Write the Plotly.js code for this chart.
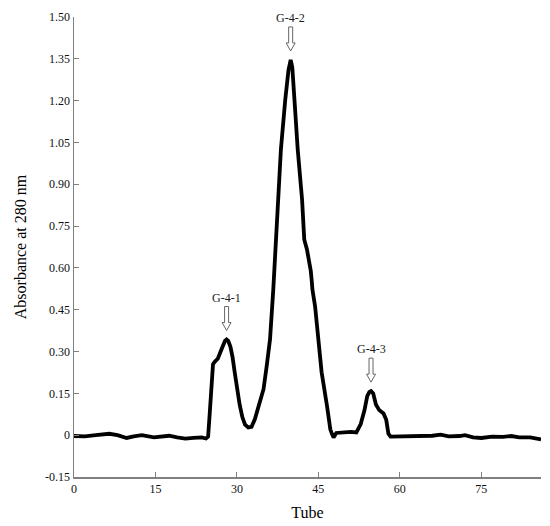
<!DOCTYPE html>
<html>
<head>
<meta charset="utf-8">
<script src="https://cdn.plot.ly/plotly-3.0.1.min.js"></script>
<style>html,body{margin:0;padding:0;background:#fff;}#chart{width:550px;height:526px;}</style>
</head>
<body>
<div id="chart"></div>
<script>
var tube = [0, 2, 4, 6.5, 8, 9.7, 11, 12.5, 14.7, 16, 17.5, 19, 20.5, 22, 23.5, 24.3, 24.7,
  25.0, 25.3, 25.6, 26.0, 26.5, 27.0, 27.5, 27.8, 28.1, 28.4, 28.8, 29.2, 29.6, 30.0, 30.5, 31.0, 31.5,
  32.1, 32.7, 33.3, 34.2, 34.9, 35.5, 36.1, 36.7, 37.2, 37.6, 38.1, 38.9, 39.5, 39.9,
  40.2, 40.6, 41.2, 42.0, 42.4, 42.9, 43.2, 43.4, 43.6, 43.8, 43.9, 44.4, 45.0, 45.6,
  46.6, 47.2, 47.5, 47.8, 48.3, 49.5, 51, 52, 52.8, 53.5, 54.0, 54.4, 54.7, 55.1, 55.6, 56.2,
  57.0, 57.5, 57.9, 58.3, 60, 62, 64, 66, 67.5, 69, 71, 72, 73.5, 75, 77, 79, 80.5, 82, 84, 86];
var absorbance = [-0.003, -0.004, 0.000, 0.005, 0.000, -0.010, -0.004, 0.000, -0.008, -0.006, -0.002, -0.008, -0.012, -0.010, -0.008, -0.012, -0.005,
  0.08, 0.20, 0.255, 0.265, 0.275, 0.30, 0.325, 0.338, 0.343, 0.338, 0.318, 0.28, 0.225, 0.17, 0.11, 0.065, 0.038,
  0.028, 0.030, 0.057, 0.12, 0.165, 0.25, 0.344, 0.523, 0.70, 0.845, 1.024, 1.203, 1.31, 1.346,
  1.32, 1.203, 1.024, 0.845, 0.702, 0.666, 0.64, 0.62, 0.59, 0.55, 0.523, 0.462, 0.344, 0.226,
  0.104, 0.021, 0.005, -0.008, 0.008, 0.010, 0.012, 0.010, 0.04, 0.09, 0.14, 0.155, 0.158, 0.15, 0.11, 0.09,
  0.078, 0.055, 0.005, -0.005, -0.004, -0.006, -0.004, -0.002, 0.002, -0.004, -0.003, 0.000, -0.008, -0.010, -0.005, -0.006, -0.003, -0.008, -0.008, -0.015];

var peakLabels = ['G-4-1', 'G-4-2', 'G-4-3'];
var peakTubes = [28.1, 39.9, 54.7];
var peakValues = [0.343, 1.346, 0.158];

var xTicks = [0, 15, 30, 45, 60, 75];
var yTicks = [-0.15, 0, 0.15, 0.30, 0.45, 0.60, 0.75, 0.90, 1.05, 1.20, 1.35, 1.50];
var yTickText = ['-0.15', '0', '0.15', '0.30', '0.45', '0.60', '0.75', '0.90', '1.05', '1.20', '1.35', '1.50'];

var serif = 'Liberation Serif';
var axisGray = '#808080';

var arrowPath = 'M0,9 L-4.5,17 L-2,17 L-2,33 L2,33 L2,17 L4.5,17 Z';

var shapes = peakTubes.map(function (t, i) {
  return {
    type: 'path', xref: 'x', yref: 'y',
    xsizemode: 'pixel', ysizemode: 'pixel',
    xanchor: t, yanchor: peakValues[i],
    path: arrowPath,
    fillcolor: '#ffffff',
    line: {color: '#666666', width: 1}
  };
});

var annotations = peakTubes.map(function (t, i) {
  return {
    x: t, y: peakValues[i], xref: 'x', yref: 'y',
    text: peakLabels[i], showarrow: false,
    yshift: 42, yanchor: 'middle', xanchor: 'center',
    font: {family: serif, size: 12, color: '#1a1a1a'}
  };
});

var trace = {
  x: tube, y: absorbance, type: 'scatter', mode: 'lines',
  line: {color: '#000000', width: 3.8, shape: 'linear'},
  hoverinfo: 'skip'
};

var layout = {
  width: 550, height: 526,
  margin: {l: 74, r: 9, t: 17, b: 49},
  paper_bgcolor: '#ffffff', plot_bgcolor: '#ffffff',
  showlegend: false,
  font: {family: serif, color: '#111111'},
  xaxis: {
    range: [0, 86], tickvals: xTicks, ticktext: xTicks.map(String),
    ticks: 'inside', ticklen: 5, tickcolor: axisGray, tickwidth: 1,
    showline: true, linecolor: axisGray, linewidth: 1.5,
    showgrid: false, zeroline: false,
    tickfont: {family: serif, size: 12, color: '#111111'},
    title: {text: 'Tube', font: {family: serif, size: 16, color: '#000000'}, standoff: 12}
  },
  yaxis: {
    range: [-0.15, 1.50], tickvals: yTicks, ticktext: yTickText,
    ticks: 'inside', ticklen: 5, tickcolor: axisGray, tickwidth: 1,
    showline: true, linecolor: axisGray, linewidth: 1.5,
    showgrid: false, zeroline: false,
    tickfont: {family: serif, size: 12, color: '#111111'},
    title: {text: 'Absorbance at 280 nm', font: {family: serif, size: 16, color: '#000000'}, standoff: 14}
  },
  shapes: shapes,
  annotations: annotations
};

Plotly.newPlot('chart', [trace], layout, {staticPlot: true, displayModeBar: false});
</script>
</body>
</html>
